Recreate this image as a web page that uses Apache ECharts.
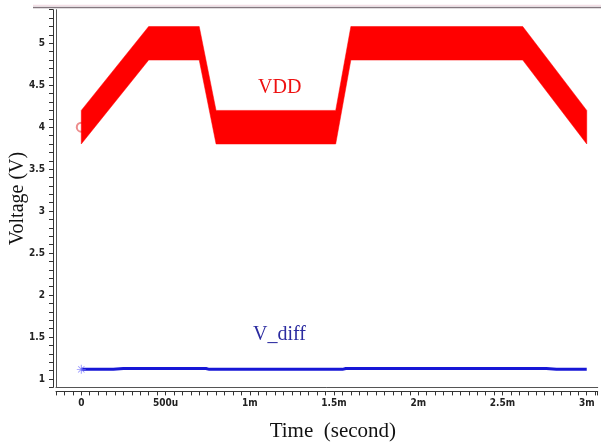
<!DOCTYPE html>
<html>
<head>
<meta charset="utf-8">
<script src="https://cdn.jsdelivr.net/npm/echarts@6/dist/echarts.min.js"></script>
<style>
html,body{margin:0;padding:0;background:#fff;}
#chart{width:601px;height:447px;}
</style>
</head>
<body>
<div id="chart"></div>
<script>
// ---- data (time in ms, voltage in V) ----
var vddTime = [0, 0.40, 0.70, 0.80, 1.51, 1.60, 2.62, 3.0];
var vddUpper = [4.2, 5.2, 5.2, 4.2, 4.2, 5.2, 5.2, 4.2];
var vddLower = [3.8, 4.8, 4.8, 3.8, 3.8, 4.8, 4.8, 3.8];

var vdiffTime = [0, 0.19, 0.25, 0.74, 0.76, 1.55, 1.57, 2.76, 2.82, 3.0];
var vdiffValue = [1.115, 1.115, 1.125, 1.125, 1.115, 1.115, 1.125, 1.125, 1.115, 1.115];

var xTickValues = [0, 0.5, 1, 1.5, 2, 2.5, 3];
var xTickLabels = ['0', '500u', '1m', '1.5m', '2m', '2.5m', '3m'];
var yTickValues = [1, 1.5, 2, 2.5, 3, 3.5, 4, 4.5, 5];
var yTickLabels = ['1', '1.5', '2', '2.5', '3', '3.5', '4', '4.5', '5'];

var vddMarker = [[0, 4.0]];
var vdiffMarker = [[0, 1.115]];

function lookup(vals, labels, v) {
  for (var i = 0; i < vals.length; i++) {
    if (Math.abs(vals[i] - v) < 1e-6) return labels[i];
  }
  return '';
}

var upperPts = vddTime.map(function (t, i) { return [t, vddUpper[i]]; });
var lowerPts = vddTime.map(function (t, i) { return [t, vddLower[i]]; });
var vdiffPts = vdiffTime.map(function (t, i) { return [t, vdiffValue[i]]; });

var chart = echarts.init(document.getElementById('chart'), null, {renderer: 'canvas'});

var tickFont = {
  fontFamily: '"Liberation Sans Narrow", "DejaVu Sans Condensed", sans-serif',
  fontWeight: 'bold',
  fontSize: 10,
  color: '#222'
};

var option = {
  backgroundColor: '#fff',
  animation: false,
  grid: {left: 56, right: 3.3, top: 9.7, bottom: 59.6, containLabel: false, outerBoundsMode: 'none'},
  xAxis: [{
    type: 'value', min: -0.15, max: 3.065, interval: 0.05,
    position: 'bottom', offset: 4,
    axisLine: {show: true, onZero: false, lineStyle: {color: '#333', width: 1}},
    axisTick: {show: true, inside: false, length: 4, lineStyle: {color: '#333'}},
    axisLabel: Object.assign({
      margin: 7, interval: 0, hideOverlap: false,
      formatter: function (v) { return lookup(xTickValues, xTickLabels, v); }
    }, tickFont),
    splitLine: {show: false},
    name: 'Time  (second)', nameLocation: 'middle', nameGap: 30, nameMoveOverlap: false,
    nameTextStyle: {fontFamily: '"Liberation Serif", "Times New Roman", serif', fontSize: 21, color: '#111', padding: [0, 0, 0, 12]}
  }, {
    type: 'value', min: -0.15, max: 3.065, position: 'bottom', offset: 0,
    axisLine: {show: true, onZero: false, lineStyle: {color: '#555', width: 1}},
    axisTick: {show: false}, axisLabel: {show: false}, splitLine: {show: false}
  }],
  yAxis: [{
    type: 'value', min: 0.9, max: 5.4, interval: 0.1,
    position: 'left', offset: 3,
    axisLine: {show: true, onZero: false, lineStyle: {color: '#333', width: 1}},
    axisTick: {show: true, inside: false, length: 4, lineStyle: {color: '#333'}},
    axisLabel: Object.assign({
      margin: 8, interval: 0, hideOverlap: false,
      formatter: function (v) { return lookup(yTickValues, yTickLabels, v); }
    }, tickFont),
    splitLine: {show: false},
    name: 'Voltage (V)', nameLocation: 'middle', nameGap: 25, nameMoveOverlap: false,
    nameTextStyle: {fontFamily: '"Liberation Serif", "Times New Roman", serif', fontSize: 20, color: '#111'}
  }, {
    type: 'value', min: 0.9, max: 5.4, position: 'left', offset: 0,
    axisLine: {show: true, onZero: false, lineStyle: {color: '#555', width: 1}},
    axisTick: {show: false}, axisLabel: {show: false}, splitLine: {show: false}
  }],
  series: [{
    type: 'scatter', xAxisIndex: 0, yAxisIndex: 0,
    data: vddMarker, symbol: 'emptyCircle', symbolSize: 9,
    itemStyle: {color: '#e87070', borderWidth: 1}, z: 1, silent: true
  }, {
    type: 'custom', xAxisIndex: 0, yAxisIndex: 0, z: 2,
    data: [[0, 4]],
    renderItem: function (params, api) {
      var pts = upperPts.map(function (p) { return api.coord(p); })
        .concat(lowerPts.slice().reverse().map(function (p) { return api.coord(p); }));
      return {type: 'polygon', shape: {points: pts}, style: {fill: '#ff0000', stroke: '#ff0000', lineWidth: 0.5}};
    },
    silent: true
  }, {
    type: 'line', xAxisIndex: 0, yAxisIndex: 0, z: 3,
    data: vdiffPts, showSymbol: false, symbol: 'none',
    lineStyle: {color: '#1717d6', width: 3}, silent: true
  }, {
    type: 'scatter', xAxisIndex: 0, yAxisIndex: 0, z: 4,
    data: vdiffMarker,
    symbol: 'path://M4.5,0h1v10h-1z M0,4.5h10v1h-10z M1.2,1.9l0.7,-0.7l7,7l-0.7,0.7z M8.1,1.2l0.7,0.7l-7,7l-0.7,-0.7z',
    symbolSize: 9, itemStyle: {color: '#7878ff'}, silent: true
  }],
  graphic: [{
    type: 'line', shape: {x1: 33, y1: 7.5, x2: 601, y2: 7.5},
    style: {stroke: '#857880', lineWidth: 1.5}, silent: true
  }, {
    type: 'line', shape: {x1: 33, y1: 5.5, x2: 601, y2: 5.5},
    style: {stroke: '#f3dfe6', lineWidth: 1.5}, silent: true
  }, {
    type: 'text', left: 258, top: 78,
    style: {text: 'VDD', fill: '#ee1111', font: '20px "Liberation Serif", "Times New Roman", serif'}
  }, {
    type: 'text', left: 253, top: 325,
    style: {text: 'V_diff', fill: '#2b2ba0', font: '20px "Liberation Serif", "Times New Roman", serif'}
  }]
};
chart.setOption(option);
</script>
</body>
</html>
